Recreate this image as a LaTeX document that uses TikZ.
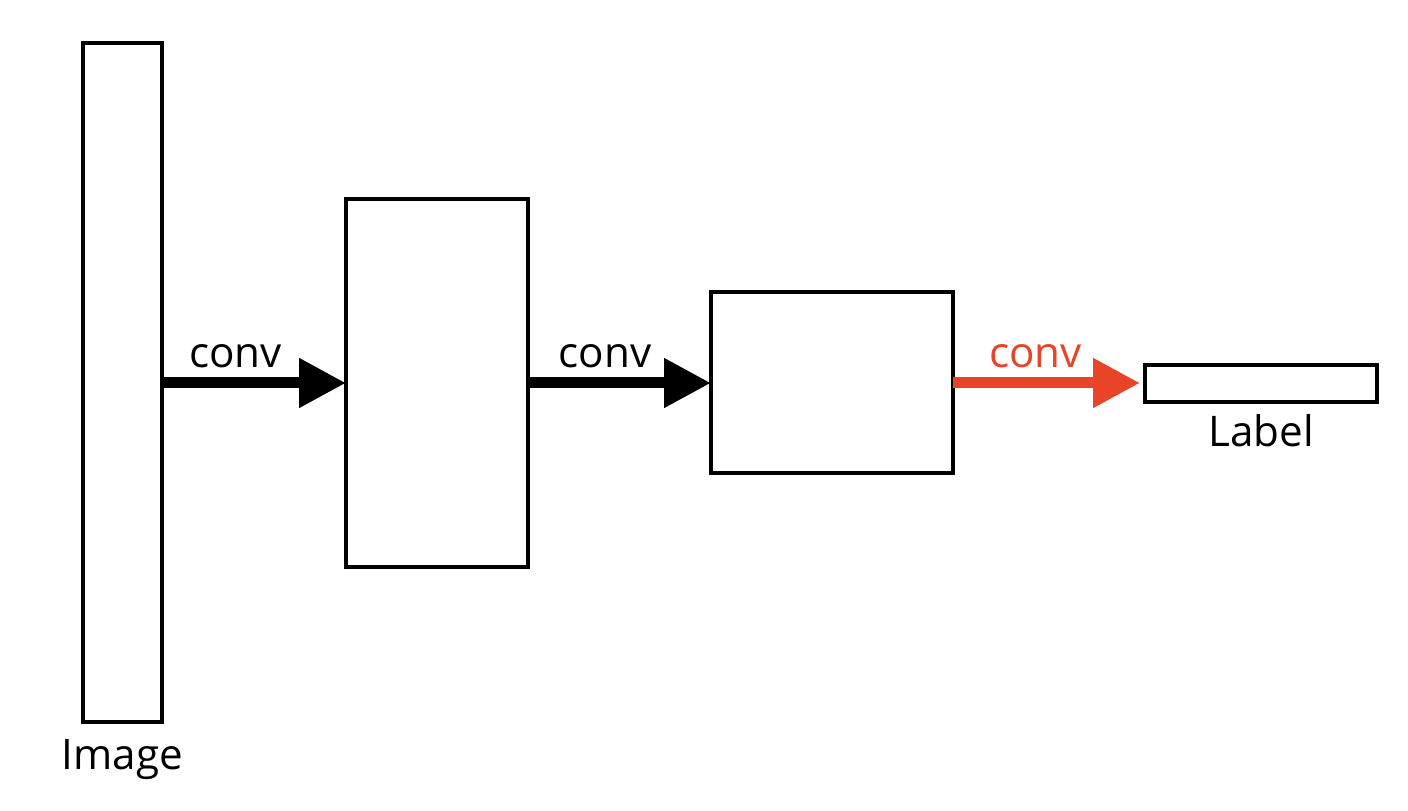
\documentclass[tikz,border=0pt]{standalone}
\usepackage{fontspec}
\setmainfont{Open Sans}
\usetikzlibrary{arrows.meta,positioning}
\definecolor{ConvRed}{HTML}{E84427}

\begin{document}
\begin{tikzpicture}[node distance=0.25cm]
    \useasboundingbox (0,0) rectangle (28.16,16.22);
    \tikzset{
      layer/.style={draw, line width=0.08cm, minimum width=#1, inner sep=0pt, outer sep=0pt},
      convarrow/.style={-{Triangle[length=0.94cm, width=0.94cm]}, line width=0.22cm},
      txt/.style={font=\fontsize{24}{29}\selectfont}
    }
    \node[layer=1.58cm, minimum height=13.58cm] (img) at (2.45,8.57) {};
    \node[layer=3.64cm, minimum height=7.36cm] (f1) at (8.74,8.56) {};
    \node[layer=4.84cm, minimum height=3.62cm] (f2) at (16.64,8.57) {};
    \node[layer=4.64cm, minimum height=0.74cm] (lbl) at (25.22,8.55) {};
    \coordinate (tip) at (22.8,8.56);
    \node[txt, below=0.22cm of img] {Image};
    \node[txt, below=0.12cm of lbl] {Label};
    \draw[convarrow] (img.east |- 0,8.56) -- node[txt, above=0.08cm, pos=0.4] {conv} (f1.west |- 0,8.56);
    \draw[convarrow] (f1.east |- 0,8.56) -- node[txt, above=0.08cm, pos=0.42] {conv} (f2.west |- 0,8.56);
    \draw[convarrow, ConvRed] (f2.east |- 0,8.56) -- node[txt, above=0.08cm, pos=0.44] {conv} (tip);
  \end{tikzpicture}
\end{document}
